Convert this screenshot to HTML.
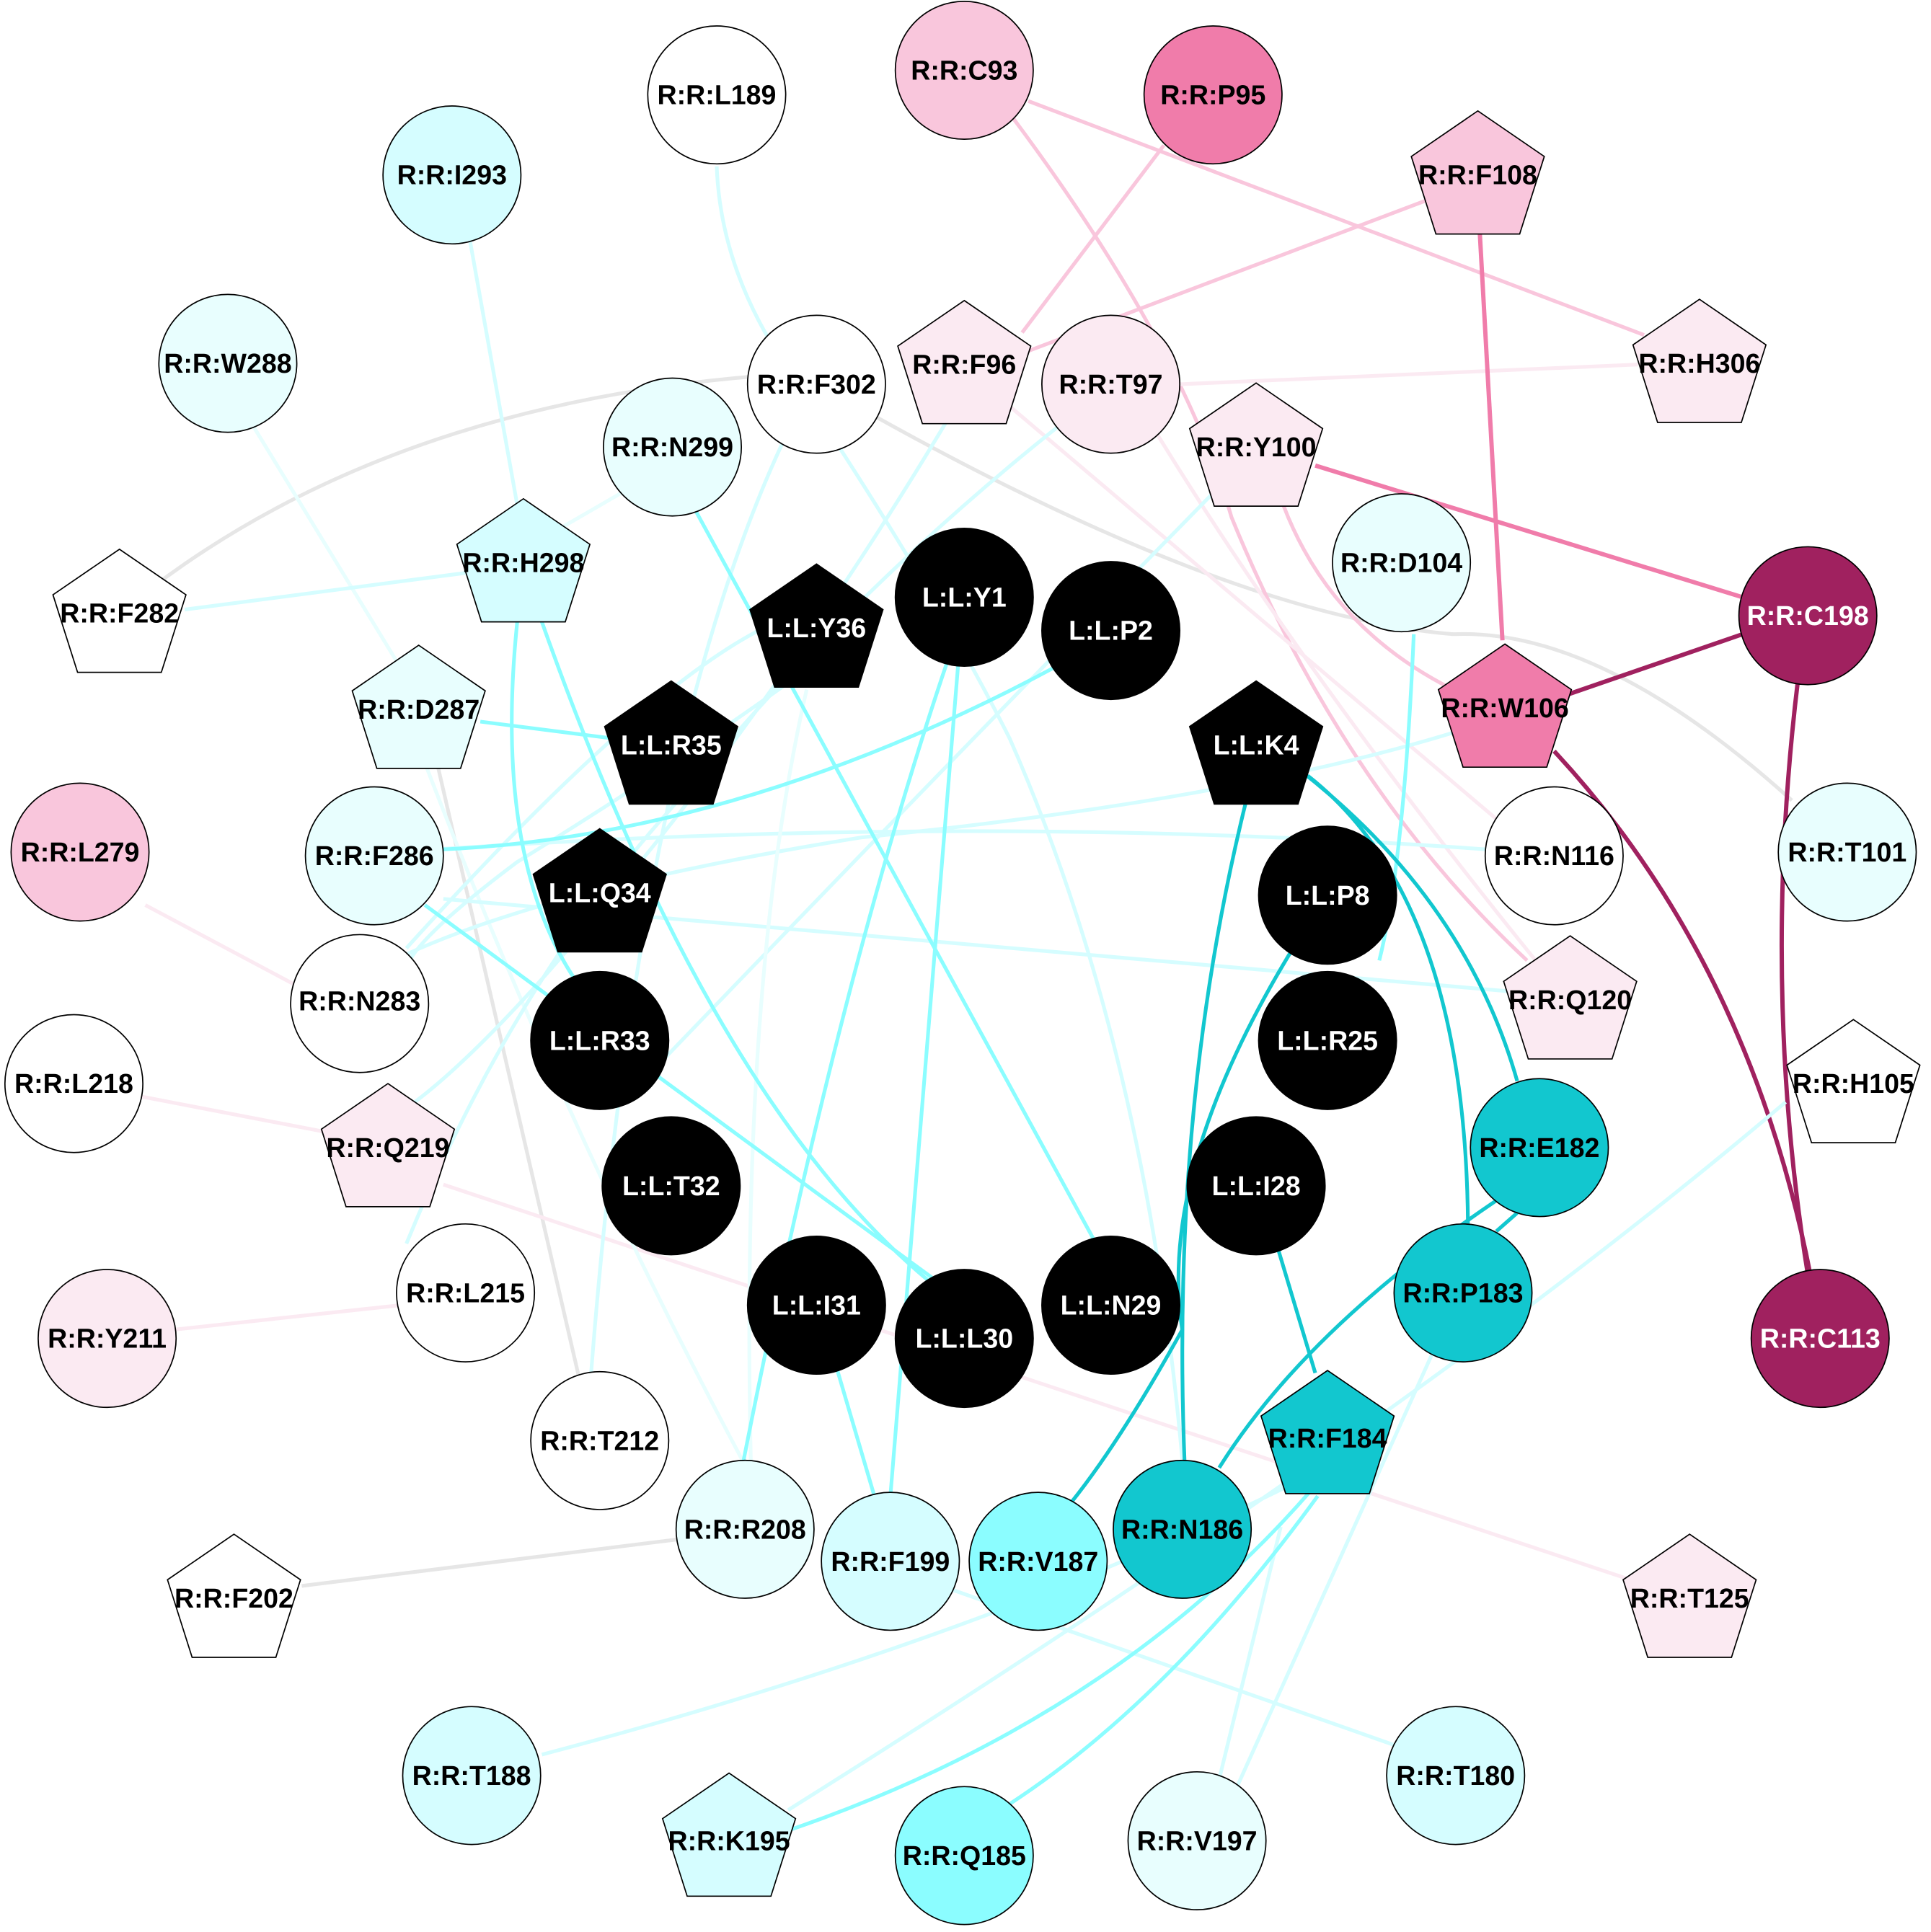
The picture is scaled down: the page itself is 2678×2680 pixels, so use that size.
<!DOCTYPE html>
<html><head><meta charset="utf-8"><style>
html,body{margin:0;padding:0;background:#fff}
svg{display:block}
text{font-family:"Liberation Sans",Arial,sans-serif;font-weight:bold;font-size:22px;text-anchor:middle;dominant-baseline:central}
.w{fill:#fff}
</style></head><body>
<svg width="2678" height="2680" viewBox="0 0 1568 1569" xmlns="http://www.w3.org/2000/svg">
<g fill="none" stroke-width="3">
<path d="M97,498 Q300,330 620,305" stroke="#e6e6e6"/>
<path d="M705,335 Q1000,500 1180,515 Q1300,510 1455,650" stroke="#e6e6e6"/>
<path d="M355,620 L470,1118" stroke="#e6e6e6"/>
<path d="M245,1288 L552,1250" stroke="#e6e6e6"/>
<path d="M835,82 L1335,272" stroke="#f9c6dc"/>
<path d="M822,95 Q960,280 1000,420 Q1090,640 1240,780" stroke="#f9c6dc"/>
<path d="M945,118 L830,270" stroke="#f9c6dc"/>
<path d="M1160,162 L835,285" stroke="#f9c6dc"/>
<path d="M958,312 L1330,296" stroke="#fbeaf2"/>
<path d="M935,345 Q1060,550 1255,790" stroke="#fbeaf2"/>
<path d="M820,330 L1215,665" stroke="#fbeaf2"/>
<path d="M1042,410 Q1080,510 1180,560" stroke="#f9c6dc"/>
<path d="M118,735 L240,800" stroke="#fbeaf2"/>
<path d="M112,890 L268,920" stroke="#fbeaf2"/>
<path d="M140,1080 L325,1060" stroke="#fbeaf2"/>
<path d="M360,962 L1330,1285" stroke="#fbeaf2"/>
<path d="M1200,160 L1220,520" stroke="#f07caa" stroke-width="3.5"/>
<path d="M1068,378 L1415,485" stroke="#f07caa" stroke-width="3.5"/>
<path d="M1270,565 L1415,515" stroke="#a0215f" stroke-width="3.5"/>
<path d="M1262,610 Q1420,780 1470,1035" stroke="#a0215f" stroke-width="3.5"/>
<path d="M1460,552 Q1430,800 1468,1035" stroke="#a0215f" stroke-width="3.5"/>
<path d="M205,345 L330,550" stroke="#e8fefe"/>
<path d="M330,580 Q450,900 605,1190" stroke="#e8fefe"/>
<path d="M378,175 L420,410" stroke="#d5fdff"/>
<path d="M150,495 L380,465" stroke="#d5fdff"/>
<path d="M410,455 L505,400" stroke="#e8fefe"/>
<path d="M582,135 Q585,220 640,300 Q760,480 820,600 Q930,850 960,1185" stroke="#d5fdff"/>
<path d="M770,340 Q650,540 520,700 Q400,850 330,900" stroke="#d5fdff"/>
<path d="M880,330 Q700,470 560,640 Q420,790 330,1010" stroke="#d5fdff"/>
<path d="M1005,380 Q750,640 520,880" stroke="#d5fdff"/>
<path d="M640,350 Q520,600 480,1115" stroke="#d5fdff"/>
<path d="M1180,595 Q1000,650 700,680 Q450,720 330,775" stroke="#d5fdff"/>
<path d="M350,690 Q800,660 1210,690" stroke="#d5fdff"/>
<path d="M360,730 Q700,760 1225,805" stroke="#d5fdff"/>
<path d="M660,540 Q550,620 420,700 Q340,760 330,785" stroke="#d5fdff"/>
<path d="M620,510 Q520,560 330,770" stroke="#d5fdff"/>
<path d="M655,560 Q600,800 610,1200" stroke="#e8fefe"/>
<path d="M1450,895 Q1150,1150 640,1470" stroke="#d5fdff"/>
<path d="M1165,1095 L1005,1450" stroke="#d5fdff"/>
<path d="M1040,1240 L990,1445" stroke="#d5fdff"/>
<path d="M1060,1200 Q800,1330 440,1425" stroke="#d5fdff"/>
<path d="M770,1290 L1140,1420" stroke="#d5fdff"/>
<path d="M420,505 Q400,700 470,800" stroke="#8bfdff"/>
<path d="M440,505 Q580,900 760,1045" stroke="#8bfdff"/>
<path d="M390,586 L500,600" stroke="#8bfdff"/>
<path d="M355,690 Q600,680 860,540" stroke="#8bfdff"/>
<path d="M345,735 L760,1040" stroke="#8bfdff"/>
<path d="M565,415 L890,1010" stroke="#8bfdff"/>
<path d="M770,535 Q680,800 603,1190" stroke="#8bfdff"/>
<path d="M778,540 L723,1215" stroke="#8bfdff"/>
<path d="M680,1113 L710,1215" stroke="#8bfdff"/>
<path d="M1065,1210 Q900,1400 630,1490" stroke="#8bfdff"/>
<path d="M1070,1215 Q950,1380 820,1465" stroke="#8bfdff"/>
<path d="M1148,515 Q1140,700 1120,780" stroke="#8bfdff"/>
<path d="M1012,650 Q950,900 962,1190" stroke="#12c7cf"/>
<path d="M1055,625 Q1190,730 1232,878" stroke="#12c7cf"/>
<path d="M1062,630 Q1190,730 1192,995" stroke="#12c7cf"/>
<path d="M1050,770 Q940,950 960,1080 Q910,1170 870,1220" stroke="#12c7cf"/>
<path d="M1038,1015 L1068,1115" stroke="#12c7cf"/>
<path d="M1215,975 Q1060,1080 990,1192" stroke="#12c7cf"/>
<path d="M1232,985 L1215,1000" stroke="#12c7cf"/>
</g>
<g stroke="#000" stroke-width="1">
<circle cx="783" cy="57" r="56" fill="#f9c6dc"/>
<circle cx="985" cy="77" r="56" fill="#f07caa"/>
<circle cx="582" cy="77" r="56" fill="#fff"/>
<circle cx="367" cy="142" r="56" fill="#d5fdff"/>
<circle cx="185" cy="295" r="56" fill="#e8fefe"/>
<circle cx="902" cy="312" r="56" fill="#fbeaf2"/>
<circle cx="663" cy="312" r="56" fill="#fff"/>
<circle cx="546" cy="363" r="56" fill="#e8fefe"/>
<circle cx="1138" cy="457" r="56" fill="#e8fefe"/>
<circle cx="783" cy="485" r="56" fill="#000"/>
<circle cx="902" cy="512" r="56" fill="#000"/>
<circle cx="1468" cy="500" r="56" fill="#a0215f"/>
<circle cx="65" cy="692" r="56" fill="#f9c6dc"/>
<circle cx="304" cy="695" r="56" fill="#e8fefe"/>
<circle cx="1078" cy="727" r="56" fill="#000"/>
<circle cx="1262" cy="695" r="56" fill="#fff"/>
<circle cx="1500" cy="692" r="56" fill="#e8fefe"/>
<circle cx="292" cy="815" r="56" fill="#fff"/>
<circle cx="487" cy="845" r="56" fill="#000"/>
<circle cx="1078" cy="845" r="56" fill="#000"/>
<circle cx="60" cy="880" r="56" fill="#fff"/>
<circle cx="545" cy="963" r="56" fill="#000"/>
<circle cx="1020" cy="963" r="56" fill="#000"/>
<circle cx="1250" cy="932" r="56" fill="#12c7cf"/>
<circle cx="378" cy="1050" r="56" fill="#fff"/>
<circle cx="663" cy="1060" r="56" fill="#000"/>
<circle cx="783" cy="1087" r="56" fill="#000"/>
<circle cx="902" cy="1060" r="56" fill="#000"/>
<circle cx="1188" cy="1050" r="56" fill="#12c7cf"/>
<circle cx="1478" cy="1087" r="56" fill="#a0215f"/>
<circle cx="87" cy="1087" r="56" fill="#fbeaf2"/>
<circle cx="487" cy="1170" r="56" fill="#fff"/>
<circle cx="605" cy="1242" r="56" fill="#e8fefe"/>
<circle cx="723" cy="1268" r="56" fill="#d5fdff"/>
<circle cx="843" cy="1268" r="56" fill="#8bfdff"/>
<circle cx="960" cy="1242" r="56" fill="#12c7cf"/>
<circle cx="383" cy="1442" r="56" fill="#d5fdff"/>
<circle cx="1182" cy="1442" r="56" fill="#d5fdff"/>
<circle cx="783" cy="1507" r="56" fill="#8bfdff"/>
<circle cx="972" cy="1495" r="56" fill="#e8fefe"/>
<polygon points="1200,90 1254,127 1234,190 1166,190 1146,127" fill="#f9c6dc"/>
<polygon points="783,244 837,281 817,344 749,344 729,281" fill="#fbeaf2"/>
<polygon points="1380,243 1434,280 1414,343 1346,343 1326,280" fill="#fbeaf2"/>
<polygon points="1020,311 1074,348 1054,411 986,411 966,348" fill="#fbeaf2"/>
<polygon points="425,405 479,442 459,505 391,505 371,442" fill="#d5fdff"/>
<polygon points="97,446 151,483 131,546 63,546 43,483" fill="#fff"/>
<polygon points="663,458 717,495 697,558 629,558 609,495" fill="#000"/>
<polygon points="340,524 394,561 374,624 306,624 286,561" fill="#e8fefe"/>
<polygon points="545,553 599,590 579,653 511,653 491,590" fill="#000"/>
<polygon points="1020,553 1074,590 1054,653 986,653 966,590" fill="#000"/>
<polygon points="1222,523 1276,560 1256,623 1188,623 1168,560" fill="#f07caa"/>
<polygon points="487,673 541,710 521,773 453,773 433,710" fill="#000"/>
<polygon points="1275,760 1329,797 1309,860 1241,860 1221,797" fill="#fbeaf2"/>
<polygon points="1505,828 1559,865 1539,928 1471,928 1451,865" fill="#fff"/>
<polygon points="315,880 369,917 349,980 281,980 261,917" fill="#fbeaf2"/>
<polygon points="1078,1113 1132,1150 1112,1213 1044,1213 1024,1150" fill="#12c7cf"/>
<polygon points="190,1246 244,1283 224,1346 156,1346 136,1283" fill="#fff"/>
<polygon points="1372,1246 1426,1283 1406,1346 1338,1346 1318,1283" fill="#fbeaf2"/>
<polygon points="592,1440 646,1477 626,1540 558,1540 538,1477" fill="#d5fdff"/>
</g>
<g>
<text x="783" y="57">R:R:C93</text>
<text x="985" y="77">R:R:P95</text>
<text x="582" y="77">R:R:L189</text>
<text x="367" y="142">R:R:I293</text>
<text x="1200" y="142">R:R:F108</text>
<text x="185" y="295">R:R:W288</text>
<text x="783" y="296">R:R:F96</text>
<text x="902" y="312">R:R:T97</text>
<text x="663" y="312">R:R:F302</text>
<text x="1380" y="295">R:R:H306</text>
<text x="546" y="363">R:R:N299</text>
<text x="1020" y="363">R:R:Y100</text>
<text x="425" y="457">R:R:H298</text>
<text x="1138" y="457">R:R:D104</text>
<text x="97" y="498">R:R:F282</text>
<text class="w" x="663" y="510">L:L:Y36</text>
<text class="w" x="783" y="485">L:L:Y1</text>
<text class="w" x="902" y="512">L:L:P2</text>
<text class="w" x="1468" y="500">R:R:C198</text>
<text x="340" y="576">R:R:D287</text>
<text class="w" x="545" y="605">L:L:R35</text>
<text class="w" x="1020" y="605">L:L:K4</text>
<text x="1222" y="575">R:R:W106</text>
<text x="65" y="692">R:R:L279</text>
<text x="304" y="695">R:R:F286</text>
<text class="w" x="487" y="725">L:L:Q34</text>
<text class="w" x="1078" y="727">L:L:P8</text>
<text x="1262" y="695">R:R:N116</text>
<text x="1500" y="692">R:R:T101</text>
<text x="292" y="813">R:R:N283</text>
<text x="1275" y="812">R:R:Q120</text>
<text class="w" x="487" y="845">L:L:R33</text>
<text class="w" x="1078" y="845">L:L:R25</text>
<text x="60" y="880">R:R:L218</text>
<text x="1505" y="880">R:R:H105</text>
<text x="315" y="932">R:R:Q219</text>
<text class="w" x="545" y="963">L:L:T32</text>
<text class="w" x="1020" y="963">L:L:I28</text>
<text x="1250" y="932">R:R:E182</text>
<text x="378" y="1050">R:R:L215</text>
<text class="w" x="663" y="1060">L:L:I31</text>
<text class="w" x="783" y="1087">L:L:L30</text>
<text class="w" x="902" y="1060">L:L:N29</text>
<text x="1188" y="1050">R:R:P183</text>
<text class="w" x="1478" y="1087">R:R:C113</text>
<text x="87" y="1087">R:R:Y211</text>
<text x="487" y="1170">R:R:T212</text>
<text x="1078" y="1168">R:R:F184</text>
<text x="605" y="1242">R:R:R208</text>
<text x="723" y="1268">R:R:F199</text>
<text x="843" y="1268">R:R:V187</text>
<text x="960" y="1242">R:R:N186</text>
<text x="190" y="1298">R:R:F202</text>
<text x="1372" y="1298">R:R:T125</text>
<text x="383" y="1442">R:R:T188</text>
<text x="1182" y="1442">R:R:T180</text>
<text x="592" y="1495">R:R:K195</text>
<text x="783" y="1507">R:R:Q185</text>
<text x="972" y="1495">R:R:V197</text>
</g>
</svg>
</body></html>
